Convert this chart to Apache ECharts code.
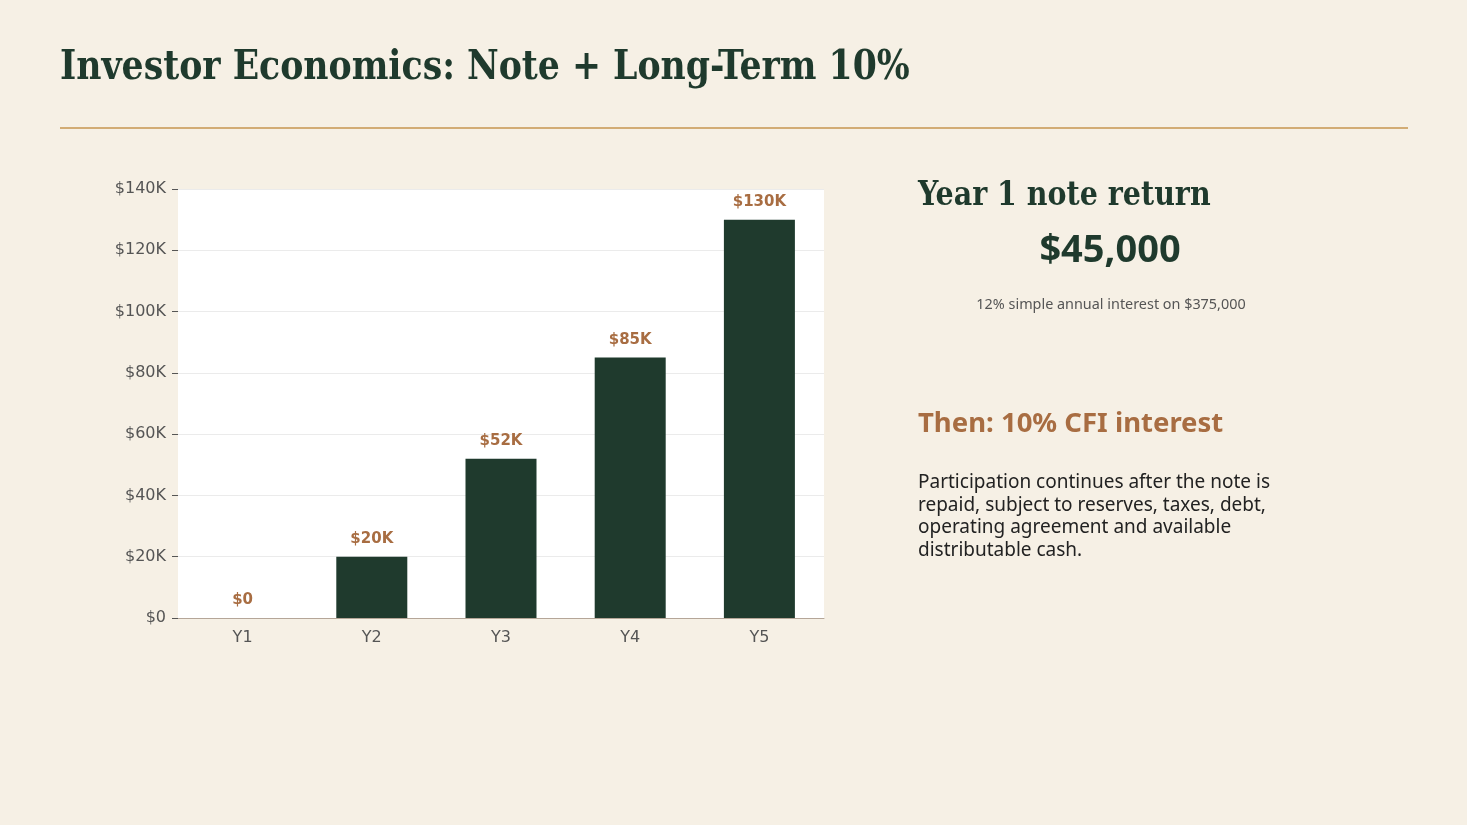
<!DOCTYPE html>
<html>
<head>
<meta charset="utf-8">
<script src="https://cdn.jsdelivr.net/npm/echarts@6/dist/echarts.min.js"></script>
<style>
  html, body { margin: 0; padding: 0; background: #f6f0e5; }
  #page { position: relative; width: 1467px; height: 825px; overflow: hidden; }
  #chart { position: absolute; left: 0; top: 0; width: 1467px; height: 825px; }
  .t { position: absolute; white-space: nowrap; margin: 0; }
  .serif { font-family: 'DejaVu Serif', serif; font-stretch: condensed; font-weight: bold; color: #1f3a2d; transform-origin: left center; }
  .sans { font-family: 'Noto Sans', 'Open Sans', sans-serif; }
</style>
</head>
<body>
<div id="page">
  <div id="chart"></div>
  <div class="t serif" style="left:60px; top:41px; font-size:41px; transform:scaleX(0.94);">Investor Economics: Note + Long-Term 10%</div>
  <div class="t serif" style="left:918px; top:174px; font-size:33px; transform:scaleX(0.96);">Year 1 note return</div>
  <div class="t sans" style="left:1110px; top:221px; transform:translateX(-50%); font-size:38px; font-weight:bold; color:#1f3a2d;">$45,000</div>
  <div class="t sans" style="left:1111px; top:294px; transform:translateX(-50%); font-size:14.4px; color:#555555;">12% simple annual interest on $375,000</div>
  <div class="t sans" style="left:918px; top:403px; font-size:27.5px; font-weight:bold; color:#a86d42;">Then: 10% CFI interest</div>
  <div class="t sans" style="left:918px; top:470px; font-size:19px; line-height:22.7px; color:#222222;">Participation continues after the note is<br>repaid, subject to reserves, taxes, debt,<br>operating agreement and available<br>distributable cash.</div>
</div>
<script>
// data
const years = ["Y1", "Y2", "Y3", "Y4", "Y5"];
const cfiInterest = [0, 20000, 52000, 85000, 130000];
const barLabels = ["$0", "$20K", "$52K", "$85K", "$130K"];

const green = "#1f3a2d";
const copper = "#a86d42";
const chartFont = "DejaVu Sans";

const chart = echarts.init(document.getElementById("chart"));

chart.setOption({
  animation: false,
  backgroundColor: "transparent",
  grid: { left: 178, top: 189, width: 646, height: 429, containLabel: false,
    show: true, backgroundColor: "#ffffff", borderWidth: 0 },
  xAxis: {
    type: "category",
    data: years,
    axisLine: { lineStyle: { color: "#b5a698", width: 1 } },
    axisTick: { alignWithLabel: true, length: 5, lineStyle: { color: "#555555" } },
    axisLabel: { color: "#555555", fontFamily: chartFont, fontSize: 16, margin: 12 }
  },
  yAxis: {
    type: "value",
    min: 0,
    max: 140000,
    interval: 20000,
    axisLine: { show: false },
    axisTick: { show: true, length: 6, lineStyle: { color: "#555555" } },
    splitLine: { lineStyle: { color: "#ebebeb", width: 1 } },
    axisLabel: {
      color: "#555555", fontFamily: chartFont, fontSize: 16, margin: 12,
      formatter: v => v === 0 ? "$0" : "$" + (v / 1000) + "K"
    }
  },
  series: [{
    type: "bar",
    data: cfiInterest,
    barWidth: 71,
    itemStyle: { color: green },
    label: {
      show: true,
      position: "top",
      distance: 10,
      color: copper,
      fontFamily: chartFont,
      fontWeight: "bold",
      fontSize: 15,
      formatter: p => barLabels[p.dataIndex]
    }
  }],
  graphic: [
    { type: "rect", shape: { x: 60, y: 127, width: 1348, height: 2 },
      style: { fill: "#d2ac75" } }
  ]
});
</script>
</body>
</html>
